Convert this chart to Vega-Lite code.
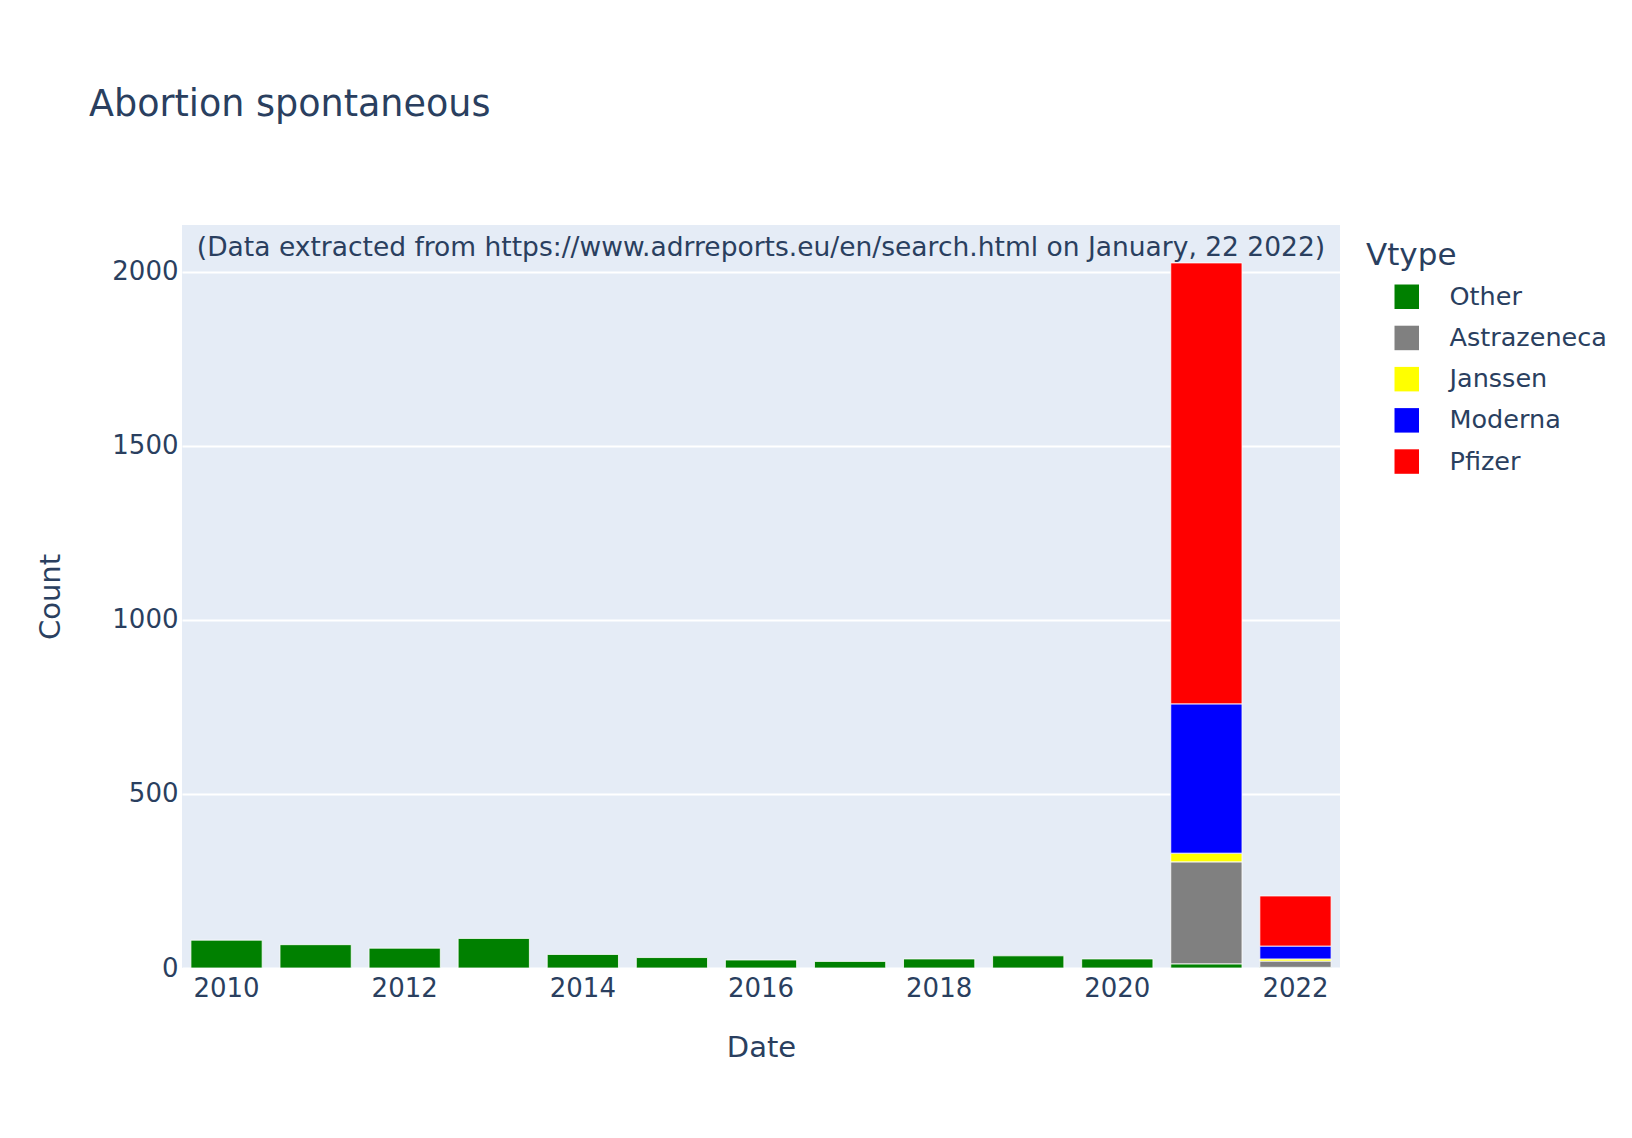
{
  "$schema": "https://vega.github.io/schema/vega-lite/v6.json",
  "autosize": {"type": "none"},
  "width": 1158,
  "height": 743,
  "padding": {"left": 182, "top": 225, "right": 292, "bottom": 170},
  "background": "white",
  "datasets": {
    "traces": [
      {"Vtype": "Other", "trace": 0},
      {"Vtype": "Astrazeneca", "trace": 1},
      {"Vtype": "Janssen", "trace": 2},
      {"Vtype": "Moderna", "trace": 3},
      {"Vtype": "Pfizer", "trace": 4}
    ]
  },
  "title": {
    "text": "Abortion spontaneous",
    "anchor": "start",
    "frame": "group",
    "dx": -93,
    "offset": 102,
    "fontSize": 36.5,
    "fontWeight": "normal",
    "color": "#2a3f5f",
    "font": "DejaVu Sans"
  },
  "config": {
    "font": "DejaVu Sans",
    "view": {"fill": "#E5ECF6", "stroke": null},
    "axis": {
      "labelColor": "#2a3f5f",
      "titleColor": "#2a3f5f",
      "labelFontSize": 26,
      "titleFontSize": 29,
      "titleFontWeight": "normal",
      "domain": false,
      "ticks": false,
      "gridColor": "white",
      "gridWidth": 2
    }
  },
  "layer": [
    {
      "data": {
        "values": [
          {"Date": "2010", "Vtype": "Other", "Count": 80},
          {"Date": "2011", "Vtype": "Other", "Count": 67},
          {"Date": "2012", "Vtype": "Other", "Count": 57},
          {"Date": "2013", "Vtype": "Other", "Count": 85},
          {"Date": "2014", "Vtype": "Other", "Count": 39},
          {"Date": "2015", "Vtype": "Other", "Count": 30},
          {"Date": "2016", "Vtype": "Other", "Count": 23},
          {"Date": "2017", "Vtype": "Other", "Count": 19},
          {"Date": "2018", "Vtype": "Other", "Count": 26},
          {"Date": "2019", "Vtype": "Other", "Count": 35},
          {"Date": "2020", "Vtype": "Other", "Count": 26},
          {"Date": "2021", "Vtype": "Other", "Count": 12},
          {"Date": "2021", "Vtype": "Astrazeneca", "Count": 293},
          {"Date": "2021", "Vtype": "Janssen", "Count": 25},
          {"Date": "2021", "Vtype": "Moderna", "Count": 429},
          {"Date": "2021", "Vtype": "Pfizer", "Count": 1267},
          {"Date": "2022", "Vtype": "Other", "Count": 2},
          {"Date": "2022", "Vtype": "Astrazeneca", "Count": 18},
          {"Date": "2022", "Vtype": "Janssen", "Count": 6},
          {"Date": "2022", "Vtype": "Moderna", "Count": 37},
          {"Date": "2022", "Vtype": "Pfizer", "Count": 144}
        ]
      },
      "transform": [
        {"lookup": "Vtype", "from": {"data": {"name": "traces"}, "key": "Vtype", "fields": ["trace"]}}
      ],
      "mark": {"type": "bar", "stroke": "white", "strokeWidth": 0.8},
      "encoding": {
        "x": {
          "field": "Date",
          "type": "ordinal",
          "scale": {"paddingInner": 0.2, "paddingOuter": 0.1},
          "axis": {
            "values": ["2010", "2012", "2014", "2016", "2018", "2020", "2022"],
            "labelAngle": 0,
            "labelPadding": 7,
            "titlePadding": 32,
            "grid": false
          }
        },
        "y": {
          "field": "Count",
          "type": "quantitative",
          "stack": "zero",
          "scale": {"domain": [0, 2135], "nice": false},
          "axis": {
            "values": [0, 500, 1000, 1500, 2000],
            "format": "d",
            "labelPadding": 4,
            "titlePadding": 46
          }
        },
        "color": {
          "field": "Vtype",
          "type": "nominal",
          "sort": ["Other", "Astrazeneca", "Janssen", "Moderna", "Pfizer"],
          "scale": {
            "domain": ["Other", "Astrazeneca", "Janssen", "Moderna", "Pfizer"],
            "range": ["#008000", "#808080", "#FFFF00", "#0000FF", "#FF0000"]
          },
          "legend": {
            "title": "Vtype",
            "orient": "none",
            "legendX": 1184,
            "legendY": 16,
            "titleFontSize": 31,
            "titleFontWeight": "normal",
            "titleColor": "#2a3f5f",
            "titlePadding": 12,
            "labelFontSize": 25.5,
            "labelColor": "#2a3f5f",
            "labelOffset": 30,
            "symbolType": "square",
            "symbolSize": 600,
            "symbolStrokeWidth": 0,
            "symbolOpacity": 1,
            "symbolOffset": 28,
            "rowPadding": 14.2,
            "padding": 0
          }
        },
        "order": {"field": "trace", "type": "quantitative", "sort": "ascending"}
      }
    },
    {
      "data": {
        "values": [
          {"Date": "2016", "note": "(Data extracted from https://www.adrreports.eu/en/search.html on January, 22 2022)"}
        ]
      },
      "mark": {"type": "text", "fontSize": 26.5, "color": "#2a3f5f", "baseline": "middle", "align": "center"},
      "encoding": {
        "x": {"field": "Date", "type": "ordinal"},
        "y": {"datum": 2069, "type": "quantitative"},
        "text": {"field": "note"}
      }
    }
  ]
}
